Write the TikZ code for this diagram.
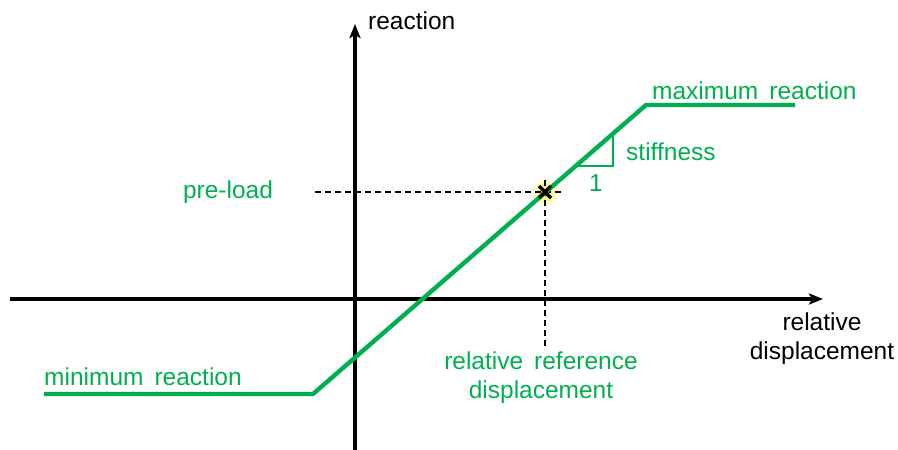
\documentclass[tikz,border=0pt]{standalone}
\usepackage{fontspec}
\setmainfont{Liberation Sans}
\usetikzlibrary{arrows.meta,calc}
\definecolor{grn}{RGB}{0,176,80}
\definecolor{glow}{RGB}{250,240,60}
\tikzset{
  axis/.style={line width=3.2pt,-{Stealth[length=14pt,width=11pt,inset=3pt]}},
  curve/.style={grn,line width=4.4pt,line join=miter},
  guide/.style={line width=1.4pt,dash pattern=on 6pt off 4pt},
  lbl/.style={inner sep=0pt,font=\fontsize{24.5}{29}\selectfont},
  glbl/.style={lbl,text=grn},
}
\newcommand{\wsp}{\hspace{0.45em}}
\begin{document}
\begin{tikzpicture}[x=1pt,y=-1pt]
\useasboundingbox (0,0) rectangle (898,450);
% axes
\coordinate (xs) at (10,299);
\coordinate (xe) at (823,299);
\coordinate (ys) at (355,450);
\coordinate (ye) at (355,24);
\draw[axis] (xs) -- (xe);
\draw[axis] (ys) -- (ye);
\node[lbl,anchor=west] (rlab) at (368,21) {reaction};
\node[lbl,align=center] (dlab) at (822,339) {relative\\displacement};
% glow and guides
\coordinate (p) at (545,192);
\shade[inner color=glow,outer color=white] (p) circle (15);
\fill[glow,opacity=0.5] (p) circle (7);
\coordinate (hg) at (315,192);
\coordinate (hge) at (563,192);
\coordinate (vg) at (545,180);
\coordinate (vge) at (545,346);
\draw[guide] (hg) -- (hge);
\draw[guide] (vg) -- (vge);
% characteristic curve
\coordinate (a) at (44,394);
\coordinate (b) at (313,394);
\coordinate (c) at (646,105);
\coordinate (d) at (795,105);
\draw[curve] (a) -- (b) -- (c) -- (d);
% marker
\draw[line width=3.2pt] ($(p)+(-6,-6)$) -- ($(p)+(6,6)$) ($(p)+(-6,6)$) -- ($(p)+(6,-6)$);
% stiffness triangle
\coordinate (t1) at (578,166);
\coordinate (t2) at (613,166);
\coordinate (t3) at (613,135);
\draw[grn,line width=1.5pt] (t1) -- (t2) -- (t3);
\node[glbl,anchor=west] (stf) at (626,152) {stiffness};
\node[glbl] (one) at (596,183) {1};
% labels
\node[glbl] (pre) at (228,192) {pre-load};
\node[glbl,anchor=west] (maxr) at (652,91) {maximum\wsp reaction};
\node[glbl,anchor=west] (minr) at (44,377) {minimum\wsp reaction};
\node[glbl,align=center] (rrd) at (541,378) {relative\wsp reference\\displacement};
\end{tikzpicture}
\end{document}
